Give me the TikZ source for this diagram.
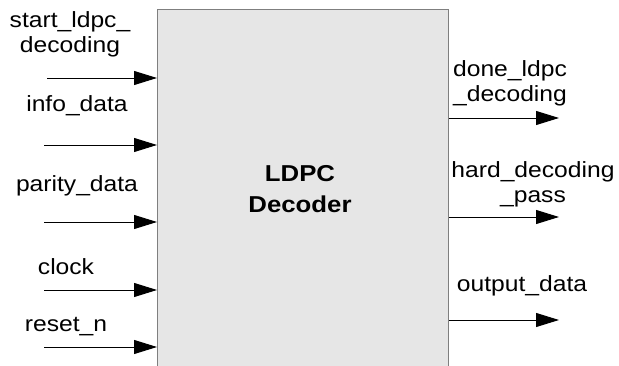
\documentclass[tikz,border=0pt]{standalone}
\usepackage{fontspec}
\setmainfont{Liberation Sans}
\newfontfamily\labfont[FakeStretch=1.12]{Liberation Sans}
\usetikzlibrary{arrows.meta}
\definecolor{boxfill}{HTML}{E6E6E6}
\definecolor{boxline}{HTML}{7F7F7F}
\tikzset{
  lab/.style={font=\labfont\fontsize{22}{25}\selectfont, align=center, inner sep=0pt, anchor=base},
  sig/.style={draw=black, line width=0.9pt, -{Triangle[length=23pt,width=14pt]}},
  block/.style={draw=boxline, fill=boxfill, line width=1.4pt, inner sep=0pt}
}
\begin{document}
\begin{tikzpicture}[x=1pt,y=1pt]
\useasboundingbox (0,0) rectangle (619,-366);
\clip (0,0) rectangle (619,-366);
\fill[white] (0,0) rectangle (619,-366);
\node[block, minimum width=291pt, minimum height=380pt, anchor=north west] (dec) at (157,-9) {};
\node[font=\labfont\bfseries\fontsize{23}{31}\selectfont, align=center, anchor=base, inner sep=0pt] (title) at (300,-213) {LDPC\\Decoder};
% input labels
\node[lab] (l1) at (70,-53) {start\_ldpc\_\\decoding};
\node[lab] (l2) at (77,-112) {info\_data};
\node[lab] (l3) at (77,-192) {parity\_data};
\node[lab] (l4) at (66,-275) {clock};
\node[lab] (l5) at (66,-332) {reset\_n};
% output labels
\node[lab] (r1) at (510,-102) {done\_ldpc\\\_decoding};
\node[lab] (r2) at (533,-203) {hard\_decoding\\\_pass};
\node[lab] (r3) at (522,-292) {output\_data};
% input arrow tails
\coordinate (i1) at (47,-78);
\coordinate (i2) at (44,-145);
\coordinate (i3) at (44,-222);
\coordinate (i4) at (44,-290);
\coordinate (i5) at (44,-347);
\foreach \c in {i1,i2,i3,i4,i5} \draw[sig] (\c) -- (dec.west |- \c);
% output arrow heads
\coordinate (o1) at (559,-118);
\coordinate (o2) at (559,-217);
\coordinate (o3) at (559,-320);
\foreach \c in {o1,o2,o3} \draw[sig] (dec.east |- \c) -- (\c);
\end{tikzpicture}
\end{document}
